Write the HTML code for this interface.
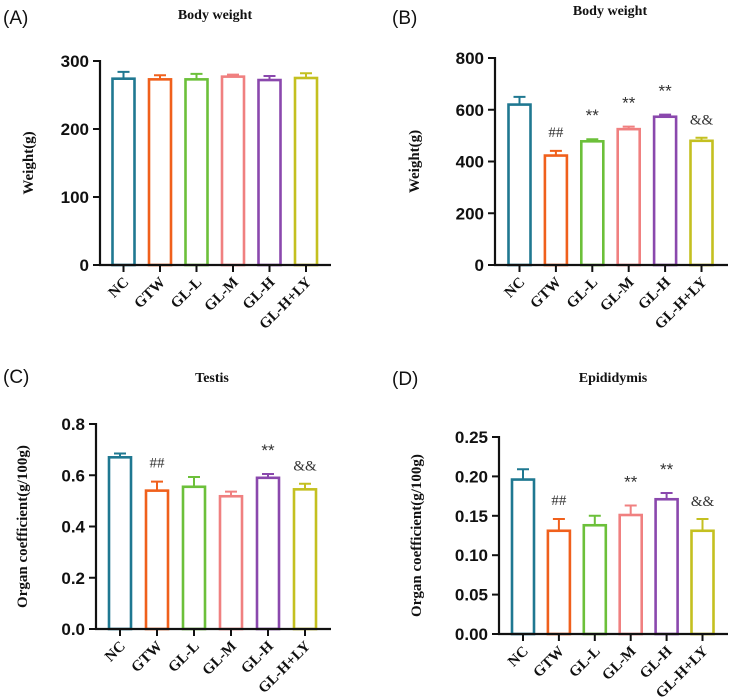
<!DOCTYPE html>
<html><head><meta charset="utf-8"><style>
html,body{margin:0;padding:0;background:#fff;}
svg{display:block;}
</style></head><body>
<svg id="fig" width="733" height="697" viewBox="0 0 733 697" xmlns="http://www.w3.org/2000/svg"></svg>
<script>
const categories = ["NC","GTW","GL-L","GL-M","GL-H","GL-H+LY"];
const colors = ["#1f7891","#f0601c","#6cc03a","#f08080","#8a48ad","#c4c020"];
const aValues = [274,273,273,277,272,275];
const aErrors = [10,6,8,3,6,7];
const aTicks = [0,100,200,300];
const bValues = [620,423,478,525,573,480];
const bErrors = [30,18,8,10,8,12];
const bTicks = [0,200,400,600,800];
const bMarks = ["","##","**","**","**","&&"];
const cValues = [0.67,0.54,0.555,0.518,0.59,0.545];
const cErrors = [0.015,0.035,0.038,0.018,0.015,0.022];
const cTicks = ["0.0","0.2","0.4","0.6","0.8"];
const cMarks = ["","##","","","**","&&"];
const dValues = [0.196,0.131,0.138,0.151,0.171,0.131];
const dErrors = [0.013,0.015,0.012,0.012,0.008,0.015];
const dTicks = ["0.00","0.05","0.10","0.15","0.20","0.25"];
const dMarks = ["","##","","**","**","&&"];

const NS="http://www.w3.org/2000/svg";
const svg=document.getElementById('fig');
function mk(tag,attrs,parent,text){const e=document.createElementNS(NS,tag);for(const k in attrs)e.setAttribute(k,attrs[k]);if(text!==undefined)e.textContent=text;(parent||svg).appendChild(e);return e;}

function panel(o){
  const g=mk('g',{});
  
  
  const yMax=parseFloat(o.ticks[o.ticks.length-1]);
  const y=v=>o.y0-(v/yMax)*(o.y0-o.yTop);
  const x=i=>o.c0+i*o.pitch;
  const L=mk('text',{x:o.lx,y:o.ly,'font-family':'Liberation Sans, sans-serif','font-size':19,fill:'#111'},g,'('+o.id.toUpperCase()+')');
  
  
  const T=mk('text',{x:o.tx,y:o.ty,'text-anchor':'middle','font-family':'Liberation Serif, serif','font-weight':'bold','font-size':14,fill:'#111'},g,o.title);
  
  
  o.values.forEach((v,i)=>{
    const cx=x(i),w=22,top=y(v),et=y(v+o.errors[i]);
    const b=mk('rect',{x:cx-w/2,y:top,width:w,height:o.y0-top,fill:'none',stroke:colors[i],'stroke-width':2.6},g);
    
    
    const e=mk('path',{d:`M${cx} ${top} V${et} M${cx-6} ${et} H${cx+6}`,stroke:colors[i],'stroke-width':2,fill:'none'},g);
    
    
    const m=o.marks?o.marks[i]:'';
    if(m){
      const isStar=m=='**';
      const off=isStar?-18:(m=='##'?-14:-13);
      const t=mk('text',{x:cx,y:et+off,'text-anchor':'middle','font-family':isStar?'Liberation Sans, sans-serif':'Liberation Serif, serif','font-size':isStar?17:15,fill:'#333'},g,m);
      
      
    }
    const tk=mk('line',{x1:cx,x2:cx,y1:o.y0,y2:o.y0+7,stroke:'#111','stroke-width':2},g);
    
    
    const lx=cx+6,ly=o.y0+18;
    const cl=mk('text',{x:lx,y:ly,transform:`rotate(-45 ${lx} ${ly})`,'text-anchor':'end','font-family':'Liberation Serif, serif','font-weight':'bold','font-size':15,fill:'#111'},g,categories[i]);
    
    
  });
  const ya=mk('line',{x1:o.ax,x2:o.ax,y1:o.yTop-1,y2:o.y0+1,stroke:'#111','stroke-width':2.2},g);
  
  
  const xa=mk('line',{x1:o.ax-1,x2:o.xEnd,y1:o.y0,y2:o.y0,stroke:'#111','stroke-width':2.2},g);
  
  
  o.ticks.forEach(t=>{
    const yy=y(parseFloat(t));
    const l=mk('line',{x1:o.ax-7,x2:o.ax,y1:yy,y2:yy,stroke:'#111','stroke-width':2},g);
    
    
    const tl=mk('text',{x:o.ax-11,y:yy+6,'text-anchor':'end','font-family':'Liberation Sans, sans-serif','font-weight':'bold','font-size':17,fill:'#111'},g,t);
    
    
  });
  const yc=(o.y0+o.yTop)/2;
  const yt=mk('text',{x:o.yx,y:yc,transform:`rotate(-90 ${o.yx} ${yc})`,'text-anchor':'middle','font-family':'Liberation Serif, serif','font-weight':'bold','font-size':15,fill:'#111'},g,o.ylabel);
  
  
}
panel({id:'a',title:'Body weight',ylabel:'Weight(g)',values:aValues,errors:aErrors,ticks:aTicks.map(String),
  ax:100,y0:265,yTop:61,xEnd:331,c0:123.5,pitch:36.5,lx:3,ly:24,tx:215,ty:19,yx:33});
panel({id:'b',title:'Body weight',ylabel:'Weight(g)',values:bValues,errors:bErrors,ticks:bTicks.map(String),marks:bMarks,
  ax:495,y0:265,yTop:58,xEnd:728,c0:519.5,pitch:36.4,lx:392,ly:24,tx:610,ty:15,yx:419});
panel({id:'c',title:'Testis',ylabel:'Organ coefficient(g/100g)',values:cValues,errors:cErrors,ticks:cTicks,marks:cMarks,
  ax:96,y0:629,yTop:424,xEnd:331,c0:120,pitch:37,lx:3,ly:383,tx:212,ty:382,yx:27});
panel({id:'d',title:'Epididymis',ylabel:'Organ coefficient(g/100g)',values:dValues,errors:dErrors,ticks:dTicks,marks:dMarks,
  ax:499,y0:634,yTop:437,xEnd:728,c0:523,pitch:35.9,lx:392,ly:385,tx:613,ty:382,yx:421});
</script>
</body></html>
